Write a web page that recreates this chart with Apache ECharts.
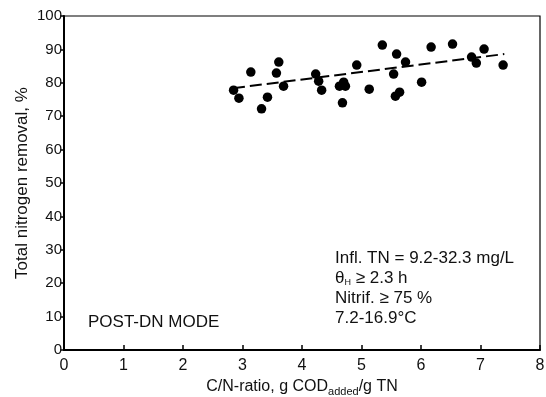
<!DOCTYPE html>
<html>
<head>
<meta charset="utf-8">
<script src="https://cdn.jsdelivr.net/npm/echarts@6/dist/echarts.min.js"></script>
<style>html,body{margin:0;padding:0;background:#fff}#c{width:546px;height:397px}</style>
</head>
<body>
<div id="c"></div>
<script>
const cnRatio = [2.85,2.94,3.14,3.32,3.42,3.57,3.61,3.69,4.23,4.28,4.33,4.63,4.70,4.73,4.68,4.92,5.13,5.35,5.59,5.74,5.54,5.64,5.57,6.01,6.17,6.53,6.85,6.93,7.06,7.38];
const tnRemoval = [77.8,75.4,83.2,72.2,75.7,82.9,86.2,79.0,82.6,80.5,77.8,79.0,80.2,79.0,74.0,85.3,78.1,91.3,88.6,86.2,82.6,77.2,76.0,80.2,90.7,91.6,87.7,85.9,90.1,85.3];
const trendX = [2.84, 7.40];
const trendY = [78.4, 88.6];
const xTicks = [0,1,2,3,4,5,6,7,8];
const yTicks = [0,10,20,30,40,50,60,70,80,90,100];

const FONT = 'Liberation Sans';
const chart = echarts.init(document.getElementById('c'), null, {renderer:'canvas'});
chart.setOption({
  animation:false,
  backgroundColor:'#fff',
  grid:{left:64,top:16,right:6,bottom:47,show:true,borderColor:'#000',borderWidth:1.2,backgroundColor:'transparent',containLabel:false,outerBoundsMode:'none'},
  xAxis:{type:'value',min:0,max:8,interval:1,
    name:'{a|C/N-ratio, g COD}{s|added}{a|/g TN}',
    nameLocation:'middle',nameGap:26,nameMoveOverlap:false,
    nameTextStyle:{rich:{a:{fontFamily:FONT,fontSize:16,color:'#111'},s:{fontFamily:FONT,fontSize:11,color:'#111',padding:[10,0,0,0]}}},
    axisLine:{lineStyle:{color:'#000',width:2}},
    axisTick:{inside:true,length:5,lineStyle:{color:'#000',width:1.5}},
    axisLabel:{fontFamily:FONT,fontSize:16,color:'#111',margin:8,formatter:v=>xTicks.includes(v)?String(v):''},
    splitLine:{show:false}},
  yAxis:{type:'value',min:0,max:100,interval:10,
    name:'Total nitrogen removal, %',nameLocation:'middle',nameGap:33,nameMoveOverlap:false,
    nameTextStyle:{fontFamily:FONT,fontSize:17,color:'#111'},
    axisLine:{lineStyle:{color:'#000',width:2}},
    axisTick:{inside:false,length:4,lineStyle:{color:'#000',width:1.5}},
    axisLabel:{fontFamily:FONT,fontSize:15,color:'#111',margin:2,formatter:v=>yTicks.includes(v)?String(v):''},
    splitLine:{show:false}},
  series:[
    {type:'line',data:trendX.map((x,i)=>[x,trendY[i]]),symbol:'none',
     lineStyle:{color:'#000',width:2,type:[12,5]},z:2},
    {type:'scatter',data:cnRatio.map((x,i)=>[x,tnRemoval[i]]),symbol:'circle',symbolSize:9.5,
     itemStyle:{color:'#000',opacity:1},z:3}
  ],
  graphic:[
    {type:'text',left:88,top:314,style:{text:'POST-DN MODE',fontFamily:FONT,fontSize:17,fill:'#111'}},
    {type:'text',left:335,top:250,style:{
      text:'{a|Infl. TN = 9.2-32.3 mg/L}\n{a|θ}{s|H}{a| ≥ 2.3 h}\n{a|Nitrif. ≥ 75 %}\n{a|7.2-16.9°C}',
      rich:{a:{fontFamily:FONT,fontSize:17,fill:'#111',lineHeight:20},s:{fontFamily:FONT,fontSize:9,fill:'#111',padding:[8,0,0,0],lineHeight:20}}}}
  ]
});
</script>
</body>
</html>
